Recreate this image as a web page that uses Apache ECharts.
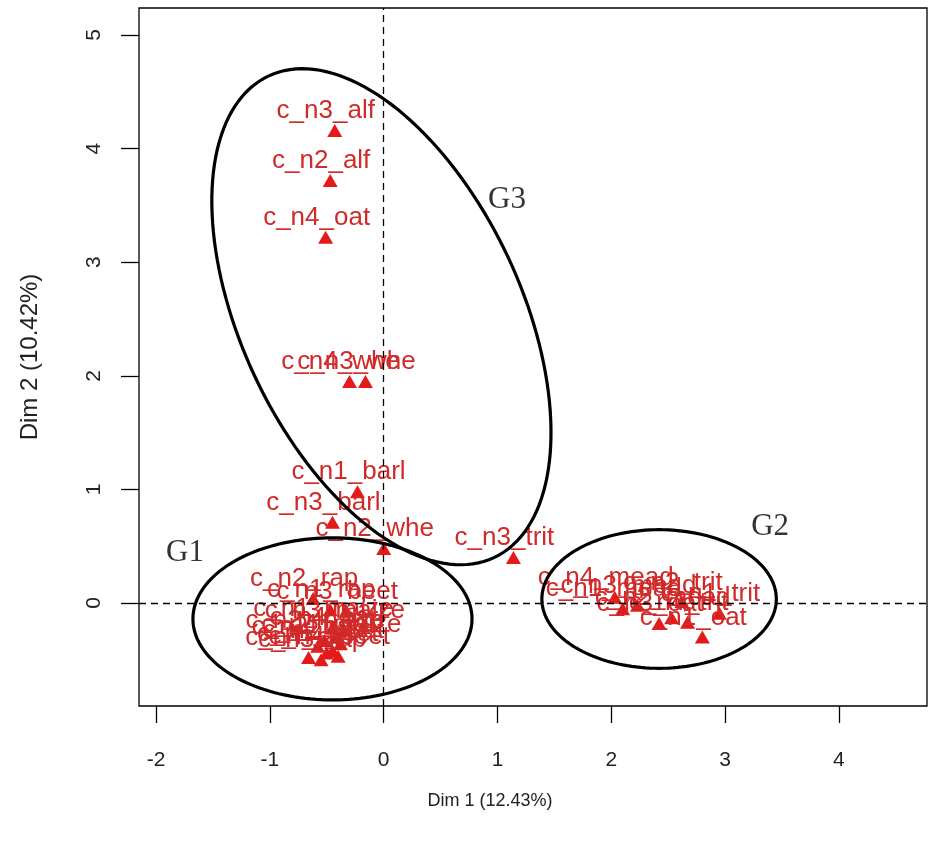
<!DOCTYPE html>
<html>
<head>
<meta charset="utf-8">
<script src="https://cdn.jsdelivr.net/npm/echarts@6/dist/echarts.min.js"></script>
<style>
  html, body { margin: 0; padding: 0; background: #fff; }
  #chart { width: 928px; height: 843px; }
</style>
</head>
<body>
<div id="chart"></div>
<script>
(function() {
  // category coordinates on the first two MCA dimensions
  var labels = [
    'c_n3_alf', 'c_n2_alf', 'c_n4_oat', 'c_n4_whe', 'c_n3_whe', 'c_n1_barl', 'c_n3_barl', 'c_n2_whe', 'c_n3_trit',
    'c_n2_rap', 'c_n1_rap', 'c_n3_beet', 'c_n1_maize', 'c_n3_maize', 'c_n2_maize', 'c_n4_maize', 'c_n2_beet',
    'c_n4_rap', 'c_n3_rap', 'c_n1_beet', 'c_n4_beet', 'c_n2_barl', 'c_n4_barl',
    'c_n4_mead', 'c_n1_mead', 'c_n3_mead', 'c_n2_mead', 'c_n3_oat', 'c_n4_trit', 'c_n2_trit', 'c_n1_trit', 'c_n1_oat'
  ];
  var dim1 = [
    -0.43, -0.47, -0.51, -0.30, -0.16, -0.23, -0.45, 0.00, 1.14,
    -0.62, -0.47, -0.33, -0.45, -0.35, -0.52, -0.38, -0.45,
    -0.66, -0.55, -0.50, -0.40, -0.58, -0.42,
    2.03, 2.10, 2.23, 2.53, 2.42, 2.67, 2.62, 2.95, 2.80
  ];
  var dim2 = [
    4.16, 3.72, 3.22, 1.95, 1.95, 0.98, 0.71, 0.48, 0.40,
    0.04, -0.06, -0.07, -0.22, -0.24, -0.33, -0.36, -0.42,
    -0.48, -0.50, -0.44, -0.47, -0.38, -0.30,
    0.05, -0.05, -0.02, -0.13, -0.18, -0.17, 0.01, -0.09, -0.30
  ];

  // group ellipses: centre, semi-axes, rotation (degrees)
  var groupNames = ['G1', 'G2', 'G3'];
  var ellCx = [-0.45, 2.42, -0.02];
  var ellCy = [-0.14, 0.035, 2.52];
  var ellA = [1.226, 1.03, 2.34];
  var ellB = [0.713, 0.61, 1.23];
  var ellAngle = [0, 0, -65];
  var groupLabelX = [-1.746, 3.396, 1.084];
  var groupLabelY = [0.44, 0.669, 3.548];

  var xTicks = [-2, -1, 0, 1, 2, 3, 4];
  var yTicks = [0, 1, 2, 3, 4, 5];

  var sans = '"Liberation Sans", Arial, sans-serif';
  var serif = '"Liberation Serif", "Times New Roman", serif';

  var pointData = labels.map(function(l, i) { return [dim1[i], dim2[i], l]; });
  var ellData = groupNames.map(function(g, i) { return [ellCx[i], ellCy[i], ellA[i], ellB[i], ellAngle[i]]; });
  var groupData = groupNames.map(function(g, i) { return [groupLabelX[i], groupLabelY[i], g]; });

  var chart = echarts.init(document.getElementById('chart'), null, { renderer: 'canvas' });

  chart.setOption({
    animation: false,
    grid: {
      left: 139, top: 8, width: 788, height: 698,
      show: true, borderColor: '#000', borderWidth: 1.3, backgroundColor: '#fff'
    },
    xAxis: {
      type: 'value',
      min: -2.15,
      max: 4.774,
      name: 'Dim 1 (12.43%)',
      nameLocation: 'middle',
      nameGap: 86,
      nameTextStyle: { color: '#222', fontSize: 18, fontFamily: sans, padding: [0, 86, 0, 0] },
      axisLine: { show: false, onZero: false },
      axisTick: { show: true, inside: false, length: 17, customValues: xTicks, lineStyle: { color: '#000', width: 1.3 } },
      axisLabel: { color: '#222', fontSize: 21, fontFamily: sans, margin: 44, customValues: xTicks },
      splitLine: { show: false }
    },
    yAxis: {
      type: 'value',
      min: -0.907,
      max: 5.238,
      name: 'Dim 2 (10.42%)',
      nameLocation: 'middle',
      nameRotate: 90,
      nameGap: 97,
      nameTextStyle: { color: '#222', fontSize: 24, fontFamily: sans },
      axisLine: { show: false, onZero: false },
      axisTick: { show: true, inside: false, length: 18, customValues: yTicks, lineStyle: { color: '#000', width: 1.3 } },
      axisLabel: { color: '#222', fontSize: 21, fontFamily: sans, margin: 34, rotate: 90, customValues: yTicks },
      splitLine: { show: false }
    },
    series: [
      {
        type: 'scatter',
        name: 'categories',
        data: pointData,
        symbol: 'triangle',
        symbolSize: [15, 13],
        itemStyle: { color: '#e41a1a', opacity: 1 },
        label: {
          show: true,
          position: 'top',
          distance: 0,
          offset: [-9, 0],
          color: '#d02a2a',
          fontSize: 26,
          fontFamily: sans,
          formatter: function(p) { return p.value[2]; }
        },
        markLine: {
          silent: true,
          symbol: 'none',
          label: { show: false },
          lineStyle: { color: '#000', width: 1.3, type: [7, 5] },
          data: [{ xAxis: 0 }, { yAxis: 0 }]
        },
        z: 3
      },
      {
        type: 'custom',
        name: 'ellipses',
        data: ellData,
        encode: { x: 0, y: 1 },
        silent: true,
        z: 5,
        renderItem: function(params, api) {
          var cx = api.value(0), cy = api.value(1);
          var a = api.value(2), b = api.value(3);
          var phi = api.value(4) * Math.PI / 180;
          var pts = [];
          for (var k = 0; k < 160; k++) {
            var t = 2 * Math.PI * k / 160;
            var x = cx + a * Math.cos(phi) * Math.cos(t) - b * Math.sin(phi) * Math.sin(t);
            var y = cy + a * Math.sin(phi) * Math.cos(t) + b * Math.cos(phi) * Math.sin(t);
            pts.push(api.coord([x, y]));
          }
          return {
            type: 'polygon',
            shape: { points: pts },
            style: { fill: 'none', stroke: '#000', lineWidth: 3.2 }
          };
        }
      },
      {
        type: 'scatter',
        name: 'groups',
        data: groupData,
        symbolSize: 1,
        itemStyle: { color: 'rgba(0,0,0,0)' },
        silent: true,
        z: 6,
        label: {
          show: true,
          position: 'inside',
          color: '#000',
          fontSize: 31,
          fontFamily: serif,
          formatter: function(p) { return p.value[2]; }
        }
      }
    ]
  });
})();
</script>
</body>
</html>
